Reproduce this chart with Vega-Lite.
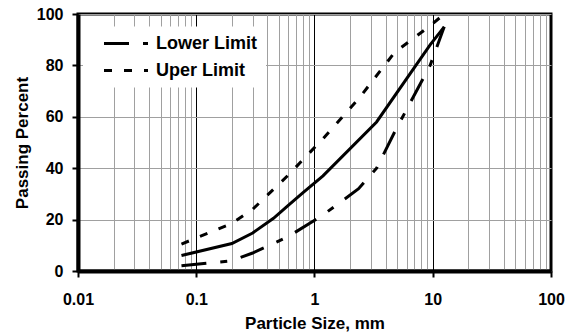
{
  "$schema": "https://vega.github.io/schema/vega-lite/v6.json",
  "width": 473,
  "height": 257,
  "autosize": {"type": "none"},
  "padding": {"left": 78, "top": 14, "right": 20, "bottom": 64},
  "background": "white",
  "config": {
    "view": {"stroke": "black", "strokeWidth": 3},
    "font": "Liberation Sans"
  },
  "datasets": {
    "limits": [
      {"series": "Lower Limit", "size": 0.075, "passing": 2},
      {"series": "Lower Limit", "size": 0.2, "passing": 4},
      {"series": "Lower Limit", "size": 0.3, "passing": 7},
      {"series": "Lower Limit", "size": 0.6, "passing": 13.4},
      {"series": "Lower Limit", "size": 1.18, "passing": 21.8},
      {"series": "Lower Limit", "size": 2.36, "passing": 32},
      {"series": "Lower Limit", "size": 3.35, "passing": 40},
      {"series": "Lower Limit", "size": 4.75, "passing": 54},
      {"series": "Lower Limit", "size": 9.5, "passing": 80},
      {"series": "Lower Limit", "size": 12.5, "passing": 95},
      {"series": "Uper Limit", "size": 0.075, "passing": 10.5},
      {"series": "Uper Limit", "size": 0.2, "passing": 18.5},
      {"series": "Uper Limit", "size": 0.3, "passing": 24},
      {"series": "Uper Limit", "size": 0.6, "passing": 37.3},
      {"series": "Uper Limit", "size": 1.18, "passing": 51.5},
      {"series": "Uper Limit", "size": 2.36, "passing": 67},
      {"series": "Uper Limit", "size": 4.75, "passing": 85},
      {"series": "Uper Limit", "size": 9.5, "passing": 95.4},
      {"series": "Uper Limit", "size": 12.5, "passing": 100}
    ],
    "gradation": [
      {"size": 0.075, "passing": 6},
      {"size": 0.2, "passing": 10.7},
      {"size": 0.3, "passing": 14.8},
      {"size": 0.45, "passing": 20.5},
      {"size": 0.6, "passing": 25.5},
      {"size": 0.8, "passing": 30.5},
      {"size": 1.18, "passing": 37},
      {"size": 3.35, "passing": 58},
      {"size": 9.5, "passing": 88},
      {"size": 12.5, "passing": 95}
    ]
  },
  "layer": [
    {
      "data": {"name": "limits"},
      "mark": {"type": "line", "strokeWidth": 3, "color": "black", "strokeCap": "butt"},
      "encoding": {
        "x": {
          "field": "size",
          "type": "quantitative",
          "scale": {"type": "log", "domain": [0.01, 100], "nice": false},
          "axis": {
            "values": [0.01, 0.02, 0.03, 0.04, 0.05, 0.06, 0.07, 0.08, 0.09, 0.1, 0.2, 0.3, 0.4, 0.5, 0.6, 0.7, 0.8, 0.9, 1, 2, 3, 4, 5, 6, 7, 8, 9, 10, 20, 30, 40, 50, 60, 70, 80, 90, 100],
            "format": "~g",
            "labelExpr": "indexof([0.01, 0.1, 1, 10, 100], datum.value) >= 0 ? datum.label : ''",
            "labelFlush": false,
            "labelOverlap": false,
            "labelFontSize": 16,
            "labelFontWeight": "bold",
            "labelColor": "black",
            "labelPadding": 14,
            "title": "Particle Size, mm",
            "titleFontSize": 17,
            "titleFontWeight": "bold",
            "titleColor": "black",
            "titlePadding": 8,
            "grid": true,
            "gridWidth": 1,
            "gridOpacity": 1,
            "gridColor": {"condition": {"test": "indexof([0.01, 0.1, 1, 10, 100], datum.value) >= 0", "value": "black"}, "value": "#a0a0a0"},
            "ticks": true,
            "tickSize": 6,
            "tickWidth": 2,
            "tickColor": {"condition": {"test": "indexof([0.01, 0.1, 1, 10, 100], datum.value) >= 0", "value": "black"}, "value": "transparent"},
            "domainColor": "black",
            "domainWidth": 4
          }
        },
        "y": {
          "field": "passing",
          "type": "quantitative",
          "scale": {"domain": [0, 100], "nice": false},
          "axis": {
            "values": [0, 20, 40, 60, 80, 100],
            "labelFontSize": 16,
            "labelFontWeight": "bold",
            "labelColor": "black",
            "labelPadding": 9,
            "title": "Passing Percent",
            "titleFontSize": 17,
            "titleFontWeight": "bold",
            "titleColor": "black",
            "titlePadding": 5,
            "grid": true,
            "gridColor": "#a0a0a0",
            "gridWidth": 1,
            "gridOpacity": 1,
            "tickSize": 6,
            "tickWidth": 2,
            "tickColor": "black",
            "domainColor": "black",
            "domainWidth": 4
          }
        },
        "strokeDash": {
          "field": "series",
          "type": "nominal",
          "scale": {"domain": ["Lower Limit", "Uper Limit"], "range": [[25, 14, 7, 14], [8, 12]]},
          "legend": {
            "title": null,
            "orient": "none",
            "legendX": 5,
            "legendY": 12.5,
            "padding": 8,
            "fillColor": "white",
            "symbolType": "M-4,0H4",
            "symbolSize": 121,
            "symbolOffset": 26,
            "symbolStrokeWidth": 3,
            "symbolStrokeColor": "black",
            "symbolFillColor": "transparent",
            "labelFontSize": 18,
            "labelFontWeight": "bold",
            "labelColor": "black",
            "labelOffset": 21,
            "rowPadding": 9
          }
        }
      }
    },
    {
      "data": {"name": "gradation"},
      "mark": {"type": "line", "strokeWidth": 3, "color": "black", "strokeCap": "butt"},
      "encoding": {
        "x": {"field": "size", "type": "quantitative"},
        "y": {"field": "passing", "type": "quantitative"}
      }
    }
  ]
}
